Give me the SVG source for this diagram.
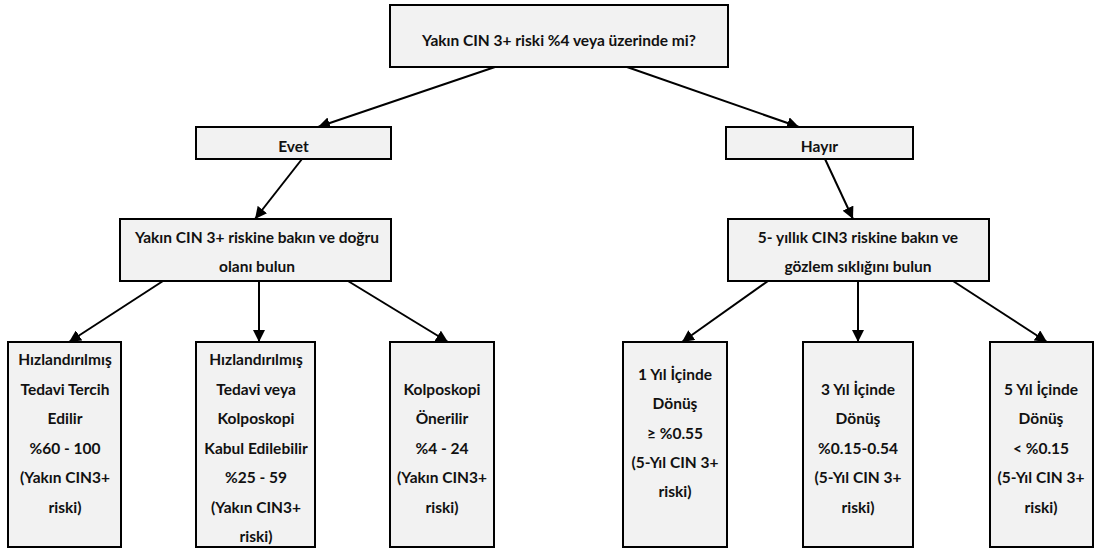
<svg xmlns="http://www.w3.org/2000/svg" width="1096" height="549" viewBox="0 0 1096 549">
  <style>
    .box { fill: #f2f2f2; stroke: #000; stroke-width: 2; }
    .lbl { font-family: Lato, "Liberation Sans", sans-serif; font-weight: bold; font-size: 15.5px; fill: #111; text-anchor: middle; }
    .edge { stroke: #000; stroke-width: 2; fill: none; marker-end: url(#arrow); }
  </style>
  <defs>
    <marker id="arrow" viewBox="0 0 10 10" refX="10" refY="5" markerWidth="6" markerHeight="6" markerUnits="strokeWidth" orient="auto">
      <path d="M0,0 L10,5 L0,10 z" fill="#000"/>
    </marker>
  </defs>
  <rect width="1096" height="549" fill="#fff"/>

  <g id="connectors">
    <line class="edge" x1="495" y1="67" x2="318" y2="127"/>
    <line class="edge" x1="627" y1="67" x2="799" y2="127"/>
    <line class="edge" x1="302" y1="159" x2="255" y2="219"/>
    <line class="edge" x1="825" y1="159" x2="853" y2="219"/>
    <line class="edge" x1="163" y1="281" x2="69" y2="342"/>
    <line class="edge" x1="259" y1="281" x2="259" y2="342"/>
    <line class="edge" x1="348" y1="281" x2="448" y2="342"/>
    <line class="edge" x1="768" y1="281" x2="682" y2="342"/>
    <line class="edge" x1="858" y1="281" x2="858" y2="342"/>
    <line class="edge" x1="953" y1="281" x2="1047" y2="342"/>
  </g>

  <g id="question">
    <rect class="box" x="390" y="5" width="338" height="62"/>
    <text class="lbl" x="559" y="46">Yakın CIN 3+ riski %4 veya üzerinde mi?</text>
  </g>

  <g id="evet">
    <rect class="box" x="196" y="127" width="195" height="32"/>
    <text class="lbl" x="293.5" y="152">Evet</text>
  </g>

  <g id="hayir">
    <rect class="box" x="726" y="127" width="187" height="32"/>
    <text class="lbl" x="819.5" y="152">Hayır</text>
  </g>

  <g id="near-risk">
    <rect class="box" x="120" y="219" width="271" height="62"/>
    <text class="lbl" x="257" y="243">Yakın CIN 3+ riskine bakın ve doğru</text>
    <text class="lbl" x="257" y="272">olanı bulun</text>
  </g>

  <g id="five-year-risk">
    <rect class="box" x="728" y="219" width="261" height="62"/>
    <text class="lbl" x="858" y="243">5- yıllık CIN3 riskine bakın ve</text>
    <text class="lbl" x="858" y="272">gözlem sıklığını bulun</text>
  </g>

  <g id="treat-preferred">
    <rect class="box" x="8" y="342" width="113" height="205"/>
    <text class="lbl" x="65" y="365">Hızlandırılmış</text>
    <text class="lbl" x="65" y="394.5">Tedavi Tercih</text>
    <text class="lbl" x="65" y="424">Edilir</text>
    <text class="lbl" x="65" y="453.5">%60 - 100</text>
    <text class="lbl" x="65" y="483">(Yakın CIN3+</text>
    <text class="lbl" x="65" y="512.5">riski)</text>
  </g>

  <g id="treat-or-colposcopy">
    <rect class="box" x="196" y="342" width="119" height="205"/>
    <text class="lbl" x="256" y="365">Hızlandırılmış</text>
    <text class="lbl" x="256" y="394.5">Tedavi veya</text>
    <text class="lbl" x="256" y="424">Kolposkopi</text>
    <text class="lbl" x="256" y="453.5">Kabul Edilebilir</text>
    <text class="lbl" x="256" y="483">%25 - 59</text>
    <text class="lbl" x="256" y="512.5">(Yakın CIN3+</text>
    <text class="lbl" x="256" y="542">riski)</text>
  </g>

  <g id="colposcopy">
    <rect class="box" x="390" y="342" width="104" height="205"/>
    <text class="lbl" x="442" y="394.5">Kolposkopi</text>
    <text class="lbl" x="442" y="424">Önerilir</text>
    <text class="lbl" x="442" y="453.5">%4 - 24</text>
    <text class="lbl" x="442" y="483">(Yakın CIN3+</text>
    <text class="lbl" x="442" y="512.5">riski)</text>
  </g>

  <g id="return-1y">
    <rect class="box" x="623" y="342" width="104" height="205"/>
    <text class="lbl" x="675" y="380">1 Yıl İçinde</text>
    <text class="lbl" x="675" y="409">Dönüş</text>
    <text class="lbl" x="675" y="438.5">≥ %0.55</text>
    <text class="lbl" x="675" y="468">(5-Yıl CIN 3+</text>
    <text class="lbl" x="675" y="497">riski)</text>
  </g>

  <g id="return-3y">
    <rect class="box" x="803" y="342" width="110" height="205"/>
    <text class="lbl" x="858" y="394.5">3 Yıl İçinde</text>
    <text class="lbl" x="858" y="424">Dönüş</text>
    <text class="lbl" x="858" y="453.5">%0.15-0.54</text>
    <text class="lbl" x="858" y="483">(5-Yıl CIN 3+</text>
    <text class="lbl" x="858" y="512.5">riski)</text>
  </g>

  <g id="return-5y">
    <rect class="box" x="990" y="342" width="103" height="205"/>
    <text class="lbl" x="1041" y="394.5">5 Yıl İçinde</text>
    <text class="lbl" x="1041" y="424">Dönüş</text>
    <text class="lbl" x="1041" y="453.5">&lt; %0.15</text>
    <text class="lbl" x="1041" y="483">(5-Yıl CIN 3+</text>
    <text class="lbl" x="1041" y="512.5">riski)</text>
  </g>
</svg>
